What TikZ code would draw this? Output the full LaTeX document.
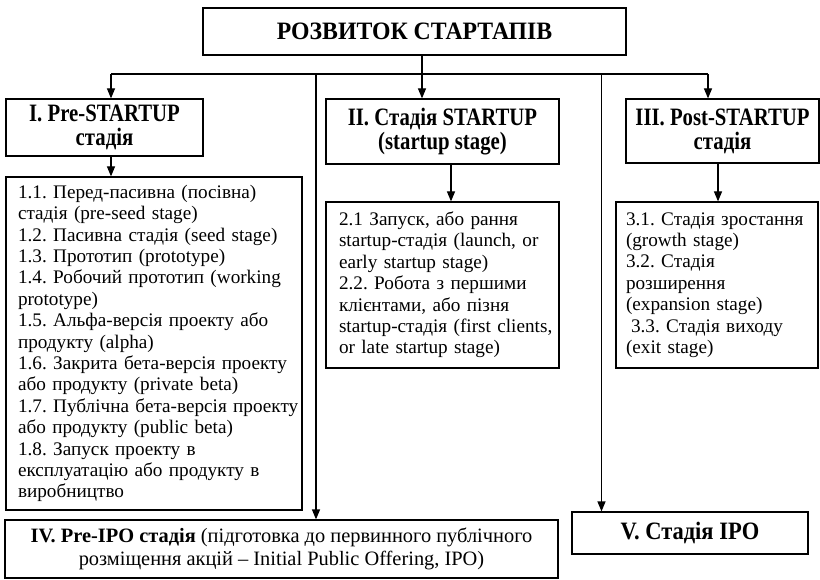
\documentclass[tikz,border=0pt]{standalone}
\usepackage{fontspec}
\setmainfont{Liberation Serif}
\newfontfamily\hdfont{Liberation Serif}[FakeStretch=0.83]
\newfontfamily\hdwfont{Liberation Serif}[FakeStretch=0.9]
\newfontfamily\ttlfont{Liberation Serif}[FakeStretch=0.95]
\newcommand\lline[1]{\mbox{#1}}
\usetikzlibrary{arrows.meta}
\begin{document}
\frenchspacing
\begin{tikzpicture}[x=1pt,y=-1pt,
  box/.style={draw, line width=1.2pt, inner sep=0pt, align=center},
  hdbox/.style={box, font=\hdfont\bfseries\fontsize{25}{24}\selectfont},
  listbox/.style={draw, line width=1.2pt, inner ysep=0pt, align=left,
     font=\fontsize{19.2}{21.4}\selectfont},
  conn/.style={line width=1.2pt},
  arr/.style={conn, -{Triangle[length=10pt,width=8pt]}}]
\useasboundingbox (0,0) rectangle (820,580);

% title
\node[box, minimum width=423pt, minimum height=47pt,
      font=\ttlfont\bfseries\fontsize{25}{26}\selectfont] (title) at (414.5,31.5) {РОЗВИТОК СТАРТАПІВ};

% stage headers
\node[hdbox, minimum width=197pt, minimum height=57pt] (s1) at (104.5,127.5) {I. Pre-STARTUP\\стадія};
\node[hdbox, minimum width=233pt, minimum height=65pt] (s2) at (442.5,131.5) {II. Стадія STARTUP\\(startup stage)};
\node[hdbox, minimum width=193pt, minimum height=64pt] (s3) at (722.5,131) {III. Post-STARTUP\\стадія};

% lists
\node[listbox, minimum width=296pt, minimum height=333pt, text width=272pt, inner xsep=12pt] (l1) at (154,343.5) {%
\lline{1.1. Перед-пасивна (посівна)}\\
\lline{стадія (pre-seed stage)}\\
\lline{1.2. Пасивна стадія (seed stage)}\\
\lline{1.3. Прототип (prototype)}\\
\lline{1.4. Робочий прототип (working}\\
\lline{prototype)}\\
\lline{1.5. Альфа-версія проекту або}\\
\lline{продукту (alpha)}\\
\lline{1.6. Закрита бета-версія проекту}\\
\lline{або продукту (private beta)}\\
\lline{1.7. Публічна бета-версія проекту}\\
\lline{або продукту (public beta)}\\
\lline{1.8. Запуск проекту в}\\
\lline{експлуатацію або продукту в}\\
\lline{виробництво}};

\node[listbox, minimum width=233pt, minimum height=166pt, text width=207pt, inner xsep=13pt] (l2) at (442.5,285) {%
\lline{2.1 Запуск, або рання}\\
\lline{startup-стадія (launch, or}\\
\lline{early startup stage)}\\
\lline{2.2. Робота з першими}\\
\lline{клієнтами, або пізня}\\
\lline{startup-стадія (first clients,}\\
\lline{or late startup stage)}};

\node[listbox, minimum width=202pt, minimum height=166pt, text width=182pt, inner xsep=10pt] (l3) at (717,285) {%
\lline{3.1. Стадія зростання}\\
\lline{(growth stage)}\\
\lline{3.2. Стадія}\\
\lline{розширення}\\
\lline{(expansion stage)}\\
\lline{\hspace*{5pt}3.3. Стадія виходу}\\
\lline{(exit stage)}};

% bottom boxes
\node[box, minimum width=553pt, minimum height=58pt,
      font=\fontsize{20.4}{23}\selectfont] (s4) at (281.5,549)
  {\textbf{IV. Pre-IPO стадія} (підготовка до первинного публічного\\
   розміщення акцій – Initial Public Offering, IPO)};
\node[box, minimum width=236pt, minimum height=42pt,
      font=\hdwfont\bfseries\fontsize{25}{24}\selectfont] (s5) at (690,533) {V. Стадія IPO};

% connectors
\coordinate (hl) at (111,74);
\coordinate (hub) at (422,74);
\coordinate (hr) at (708,74);
\coordinate (vl) at (316,74);
\coordinate (vr) at (601.5,74);
\coordinate (c2) at (451,0);
\coordinate (c3) at (718,0);

\draw[conn] (hub |- title.south) -- (hub);
\draw[conn] (hl) -- (hr);
\draw[arr] (hl) -- (hl |- s1.north);
\draw[arr] (hub) -- (hub |- s2.north);
\draw[arr] (hr) -- (hr |- s3.north);
\draw[arr] (hl |- s1.south) -- (hl |- l1.north);
\draw[arr] (c2 |- s2.south) -- (c2 |- l2.north);
\draw[arr] (c3 |- s3.south) -- (c3 |- l3.north);
\draw[arr] (vl) -- (vl |- s4.north);
\draw[arr] (vr) -- (vr |- s5.north);
\end{tikzpicture}
\end{document}
